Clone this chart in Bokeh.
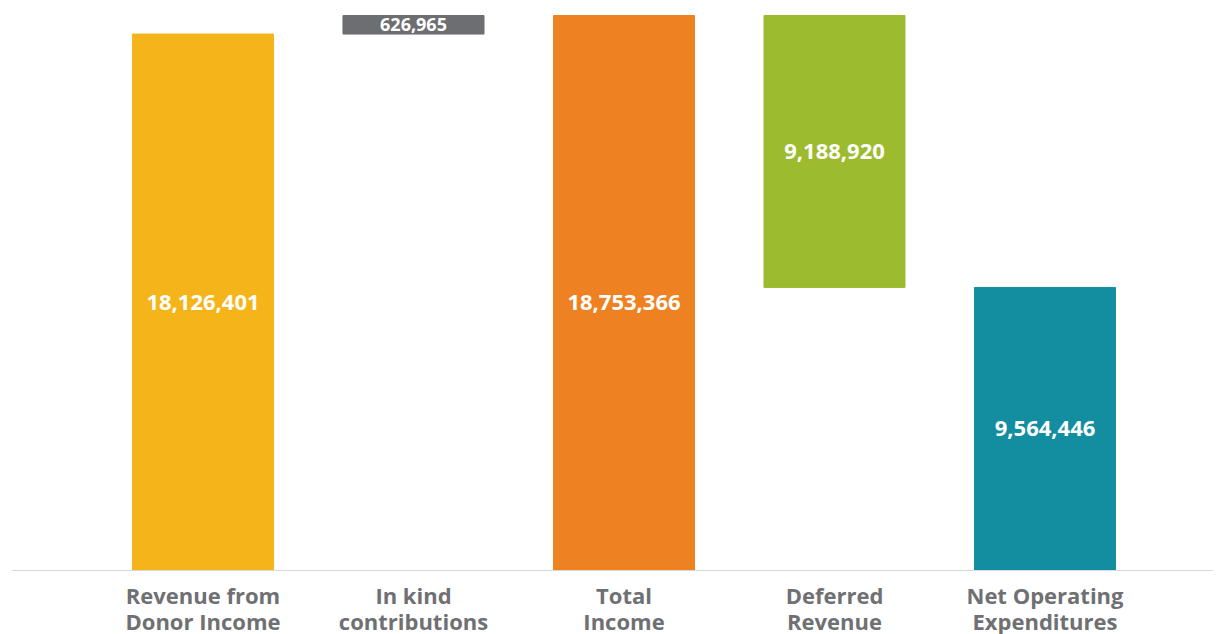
from bokeh.plotting import figure
from bokeh.models import ColumnDataSource, Range1d, Span
from bokeh.core.properties import value
from bokeh.embed import file_html
from bokeh.resources import INLINE

categories = ["Revenue from\nDonor Income", "In kind\ncontributions", "Total\nIncome",
              "Deferred\nRevenue", "Net Operating\nExpenditures"]
values = [18126401, 626965, 18753366, 9188920, 9564446]
bottoms = [0, 18126401, 0, 9564446, 0]
colors = ["#F5B51A", "#6D6E71", "#EE8223", "#9DBB2F", "#138DA0"]

xs = list(range(len(categories)))
tops = [b + v for b, v in zip(bottoms, values)]
mids = [(b + t) / 2 for b, t in zip(bottoms, tops)]
# the total's label sits level with the donor-income label, as in the original
mids[2] = mids[0]
labels = [f"{v:,}" for v in values]
sizes = ["22px" if v > 1000000 else "18px" for v in values]
line1 = [c.split("\n")[0] for c in categories]
line2 = [c.split("\n")[1] for c in categories]

src = ColumnDataSource(dict(x=xs, bottom=bottoms, top=tops, mid=mids, color=colors,
                            label=labels, size=sizes, line1=line1, line2=line2))

H = 634
upp = 18753366 / 555.0  # data units per pixel
p = figure(width=1213, height=H, output_backend="svg", toolbar_location=None,
           x_axis_type=None, y_axis_type=None,
           x_range=Range1d(-0.9097, 4.8005),
           y_range=Range1d(-(H - 570) * upp, 18753366 + 15 * upp),
           min_border_left=11, min_border_right=0, min_border_top=0, min_border_bottom=0)
p.outline_line_color = None
p.grid.visible = False

p.vbar(x="x", bottom="bottom", top="top", width=0.67, color="color", source=src)

p.text(x="x", y="mid", text="label", source=src, text_align="center",
       text_baseline="middle", text_color="white", text_font=value("Open Sans"),
       text_font_style="bold", text_font_size="size")

p.add_layout(Span(location=0, dimension="width", line_color="#D9D9D9", line_width=1))

lab_kw = dict(source=src, text_align="center", text_baseline="top", text_color="#6F7073",
              text_font=value("Open Sans"), text_font_style="bold", text_font_size="22px")
p.text(x="x", y=-9 * upp, text="line1", **lab_kw)
p.text(x="x", y=-35 * upp, text="line2", **lab_kw)

open("out.html", "w").write(file_html(p, INLINE))
